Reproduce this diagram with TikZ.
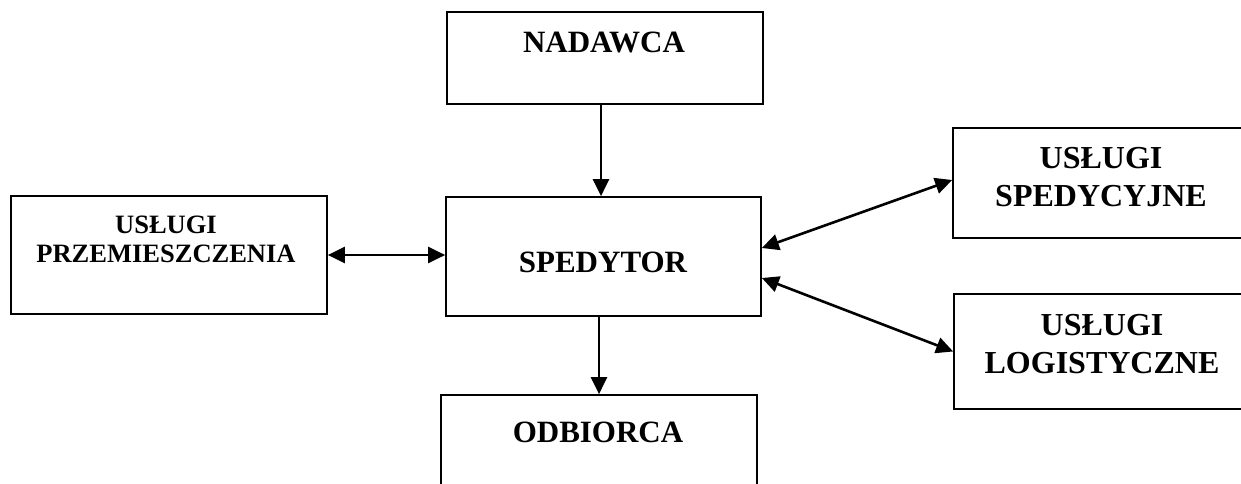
\documentclass[tikz,border=0pt]{standalone}
\usepackage{fontspec}
\setmainfont{Liberation Serif}
\usetikzlibrary{arrows.meta}
\begin{document}
\begin{tikzpicture}[x=1pt,y=-1pt,
  box/.style={draw, line width=1.7pt, rectangle, inner sep=0pt},
  big/.style={font=\fontsize{31}{38}\selectfont\bfseries, anchor=base, inner sep=0pt},
  rbig/.style={font=\fontsize{32}{38}\selectfont\bfseries, anchor=base, inner sep=0pt},
  small/.style={font=\fontsize{26.5}{30}\selectfont\bfseries, anchor=base, inner sep=0pt},
  tip/.tip={Triangle[length=17pt,width=16pt]},
  arr/.style={line width=2.6pt, -tip},
  dbl/.style={line width=2.6pt, tip-tip}]
\useasboundingbox (0,0) rectangle (1241,484);
\begin{scope}
\clip (0,0) rectangle (1241,484);
\node[box, minimum width=316pt, minimum height=92pt] (nad) at (605,58) {};
\node[box, minimum width=315pt, minimum height=119pt] (sped) at (603.5,256.5) {};
\node[box, minimum width=316pt, minimum height=110pt] (odb) at (599,450) {};
\node[box, minimum width=316pt, minimum height=118pt] (przem) at (169,255) {};
\node[box, minimum width=316pt, minimum height=110pt] (spc) at (1111,183) {};
\node[box, minimum width=316pt, minimum height=115pt] (logi) at (1112,351.5) {};
\end{scope}
\node[big] (tnad) at (604,53) {NADAWCA};
\node[big] (tsped) at (603,272) {SPEDYTOR};
\node[big] (todb) at (598,442) {ODBIORCA};
\node[small] (tpr1) at (166,233) {USŁUGI};
\node[small] (tpr2) at (166,262) {PRZEMIESZCZENIA};
\node[rbig] (tsp1) at (1101,168) {USŁUGI};
\node[rbig] (tsp2) at (1101,206) {SPEDYCYJNE};
\node[rbig] (tlo1) at (1102,335) {USŁUGI};
\node[rbig] (tlo2) at (1102,373) {LOGISTYCZNE};
\draw[arr] ([xshift=-4pt]nad.south) -- ([xshift=-4pt]nad.south |- sped.north);
\draw[arr] ([xshift=-4.5pt]sped.south) -- ([xshift=-4.5pt]sped.south |- odb.north);
\draw[dbl] (przem.east) -- (przem.east -| sped.west);
\draw[dbl] ([yshift=8.5pt]sped.east) -- ([yshift=3pt]spc.west);
\draw[dbl] ([yshift=-21.5pt]sped.east) -- (logi.west);
\end{tikzpicture}
\end{document}
